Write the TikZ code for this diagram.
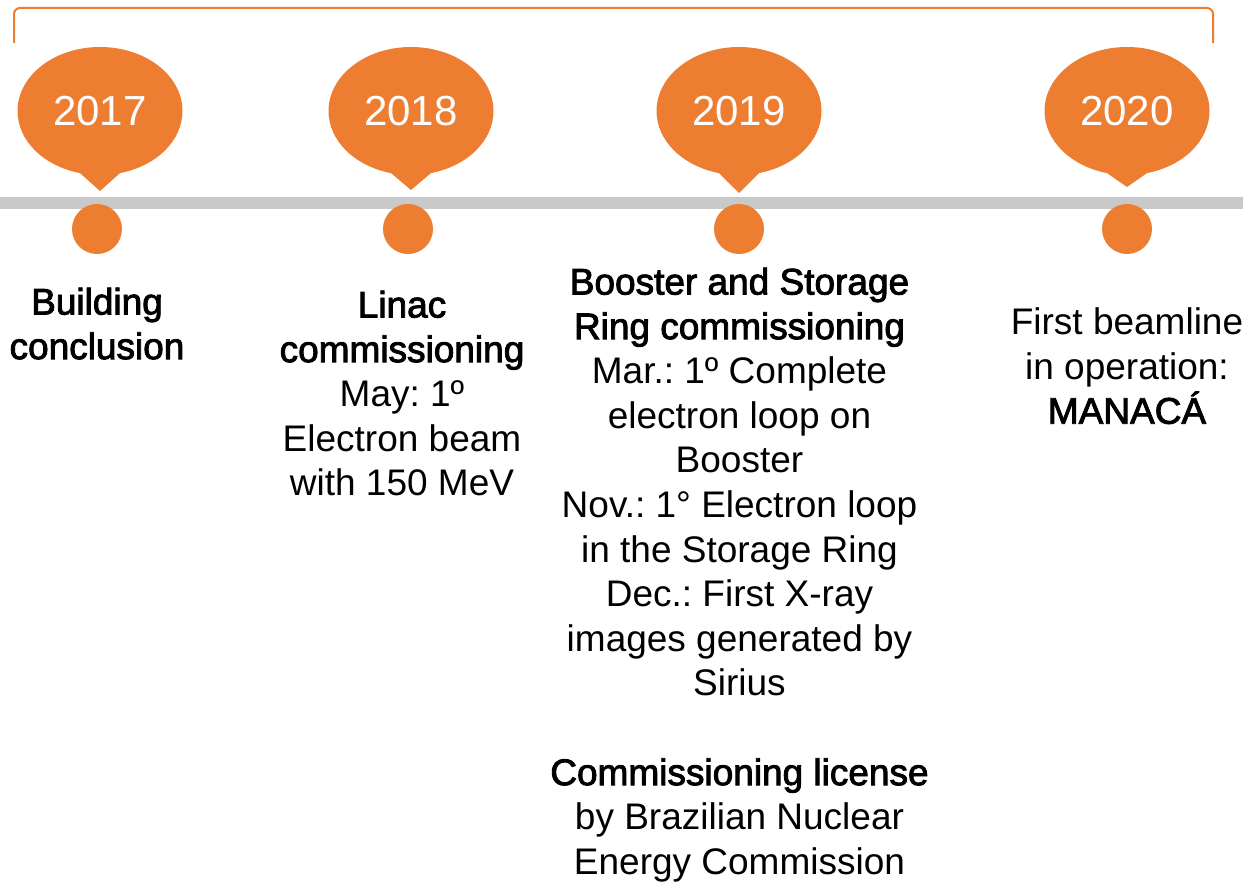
\documentclass[tikz,border=0pt]{standalone}
\usepackage{fontspec}
\setmainfont{Liberation Sans}
\newfontfamily\headfont[FakeBold=2.4]{Liberation Sans}
\usetikzlibrary{shapes.callouts}
\definecolor{tlorange}{HTML}{ED7D31}
\definecolor{tlgrey}{HTML}{C9C9C9}
\frenchspacing
\begin{document}
\begin{tikzpicture}[x=1pt,y=-1pt,
	bubble/.style={ellipse callout,fill=tlorange,draw=none,minimum width=165pt,minimum height=128pt,inner sep=0pt,callout pointer arc=28,text=white,font=\fontsize{42}{50}\selectfont},
	dotmark/.style={circle,fill=tlorange,minimum size=50pt,inner sep=0pt},
	event/.style={align=center,anchor=north,inner sep=0pt,font=\fontsize{37}{44.6}\selectfont}]
	\useasboundingbox (0,0) rectangle (1243,882);
	% bracket over the years
	\draw[tlorange,line width=2pt,rounded corners=6pt] (14,43) -- (14,8) -- (1213,8) -- (1213,43);
	% time axis
	\coordinate (barL) at (0,203);
	\coordinate (barR) at (1243,203);
	\draw[tlgrey,line width=12pt] (barL) -- (barR);
	\foreach \yr/\bx/\ty/\dx in {2017/100/191/97,2018/411/190/408,2019/739/193/739,2020/1127/187/1127}{
		\node[bubble,callout absolute pointer={(\bx,\ty)}] (y\yr) at (\bx,111) {\yr};
		\node[dotmark] (d\yr) at (\dx,229) {};
	}
	\node[event] (t2017) at (97,287.5) {{\headfont Building}\\{\headfont conclusion}};
	\node[event] (t2018) at (402,290.5) {{\headfont Linac}\\{\headfont commissioning}\\May: 1º\\Electron beam\\with 150 MeV};
	\node[event] (t2019) at (739.5,267.5) {{\headfont Booster and Storage}\\{\headfont Ring commissioning}\\Mar.: 1º Complete\\electron loop on\\Booster\\Nov.: 1° Electron loop\\in the Storage Ring~\\Dec.: First X-ray\\images generated by\\Sirius\\[44.6pt]{\headfont Commissioning license}\\by Brazilian Nuclear\\Energy Commission};
	\node[event] (t2020) at (1127,307.5) {First beamline\\in operation:\\{\headfont MANACÁ}};
\end{tikzpicture}
\end{document}
